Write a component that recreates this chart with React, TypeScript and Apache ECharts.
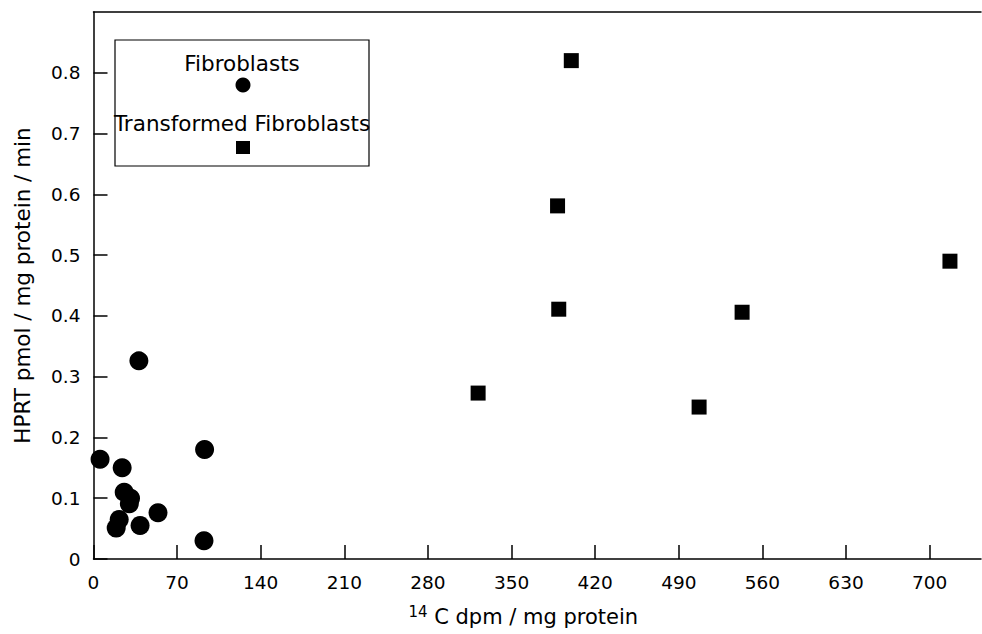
import React, { useEffect, useRef } from "react";
import * as echarts from "echarts";

// Fibroblasts: [14C dpm / mg protein, HPRT pmol / mg protein / min]
const fibroblasts: [number, number][] = [
  [38, 0.326],
  [93, 0.18],
  [5.5, 0.164],
  [24, 0.15],
  [25.7, 0.11],
  [31, 0.1],
  [30, 0.091],
  [54, 0.076],
  [21.5, 0.065],
  [19, 0.051],
  [39, 0.055],
  [92.5, 0.03],
];

// Transformed fibroblasts
const transformed: [number, number][] = [
  [400, 0.82],
  [388.5, 0.581],
  [389.5, 0.411],
  [543, 0.406],
  [322, 0.273],
  [507, 0.25],
  [717, 0.49],
];

const xTicks = [0, 70, 140, 210, 280, 350, 420, 490, 560, 630, 700];
const yTicks = [0, 0.1, 0.2, 0.3, 0.4, 0.5, 0.6, 0.7, 0.8];

const FONT = "DejaVu Sans";
const INK = "#000";

export default function App() {
  const ref = useRef<HTMLDivElement>(null);

  useEffect(() => {
    if (!ref.current) return;
    const chart = echarts.init(ref.current, undefined, { renderer: "svg" });

    chart.setOption({
      animation: false,
      backgroundColor: "#fff",
      grid: {
        left: 93.5,
        right: 1,
        top: 12,
        bottom: 75,
        containLabel: false,
        outerBoundsMode: "none",
      },
      xAxis: [
        {
          type: "value",
          min: 0,
          max: 743,
          splitLine: { show: false },
          axisLine: { show: true, onZero: false, lineStyle: { color: INK, width: 1.5 } },
          axisTick: {
            show: true,
            inside: true,
            length: 14,
            customValues: xTicks,
            lineStyle: { color: INK, width: 1.5 },
          },
          axisLabel: {
            customValues: xTicks,
            margin: 14,
            fontFamily: FONT,
            fontSize: 18.5,
            color: INK,
          },
          name: "{sup|14}{main| C dpm / mg protein}",
          nameLocation: "middle",
          nameGap: 45,
          nameTextStyle: {
            padding: [0, 28, 0, 0],
            rich: {
              sup: { fontFamily: FONT, fontSize: 15, color: INK, padding: [0, 0, 10, 0] },
              main: { fontFamily: FONT, fontSize: 21, color: INK },
            },
          },
        },
        {
          type: "value",
          position: "top",
          min: 0,
          max: 743,
          splitLine: { show: false },
          axisLine: { show: true, onZero: false, lineStyle: { color: INK, width: 1.5 } },
          axisTick: { show: false },
          axisLabel: { show: false },
        },
      ],
      yAxis: {
        type: "value",
        min: 0,
        max: 0.9,
        splitLine: { show: false },
        axisLine: { show: true, onZero: false, lineStyle: { color: INK, width: 1.5 } },
        axisTick: {
          show: true,
          inside: true,
          length: 14,
          customValues: yTicks,
          lineStyle: { color: INK, width: 1.5 },
        },
        axisLabel: {
          customValues: yTicks,
          margin: 13,
          fontFamily: FONT,
          fontSize: 18.5,
          color: INK,
          formatter: (v: number) => (v === 0 ? "0" : v.toFixed(1)),
        },
        name: "HPRT pmol / mg protein / min",
        nameLocation: "middle",
        nameGap: 60,
        nameTextStyle: { fontFamily: FONT, fontSize: 21.5, color: INK },
      },
      series: [
        {
          name: "Fibroblasts",
          type: "scatter",
          xAxisIndex: 0,
          data: fibroblasts,
          symbol: "circle",
          symbolSize: 19,
          itemStyle: { color: "#000", opacity: 1 },
        },
        {
          name: "Transformed Fibroblasts",
          type: "scatter",
          xAxisIndex: 0,
          data: transformed,
          symbol: "rect",
          symbolSize: 15,
          itemStyle: { color: "#000", opacity: 1 },
        },
      ],
      graphic: [
        {
          type: "rect",
          shape: { x: 115, y: 40, width: 254, height: 126 },
          style: { fill: "none", stroke: INK, lineWidth: 1.2 },
          z: 10,
        },
        {
          type: "text",
          x: 242,
          y: 63,
          style: {
            text: "Fibroblasts",
            fontFamily: FONT,
            fontSize: 21.5,
            fill: INK,
            align: "center",
            verticalAlign: "middle",
          },
          z: 10,
        },
        {
          type: "circle",
          shape: { cx: 243, cy: 85, r: 7.5 },
          style: { fill: "#000" },
          z: 10,
        },
        {
          type: "text",
          x: 242,
          y: 123,
          style: {
            text: "Transformed Fibroblasts",
            fontFamily: FONT,
            fontSize: 21.5,
            fill: INK,
            align: "center",
            verticalAlign: "middle",
          },
          z: 10,
        },
        {
          type: "rect",
          shape: { x: 236, y: 141, width: 14, height: 13 },
          style: { fill: "#000" },
          z: 10,
        },
      ],
    });

    return () => chart.dispose();
  }, []);

  return (
    <div
      ref={ref}
      style={{ position: "absolute", left: 0, top: 0, width: 982, height: 634 }}
    />
  );
}
